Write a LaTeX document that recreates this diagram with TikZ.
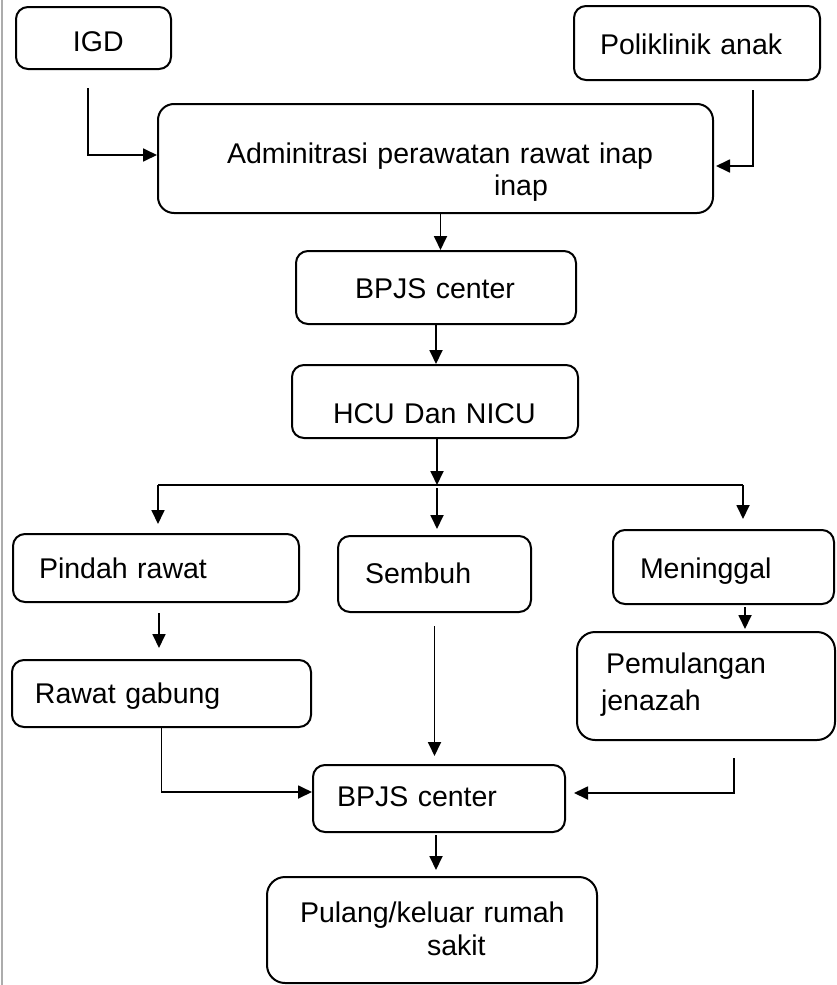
\documentclass[tikz,border=0pt]{standalone}
\usepackage{fontspec}
\setmainfont{Liberation Sans}
\usetikzlibrary{arrows.meta}
\tikzset{
  box/.style={draw, line width=2pt, rounded corners=12pt, inner sep=0pt, align=left,
    font=\fontsize{28.5}{32}\selectfont, text depth=0pt, anchor=center},
  conn/.style={line width=1.8pt},
  arr/.style={conn, -{Triangle[length=14pt,width=13pt]}}
}
\begin{document}
\begin{tikzpicture}[x=1pt,y=-1pt]
\useasboundingbox (0,0) rectangle (836,985);
\draw[gray!65, line width=2pt] (1.5,0) -- (1.5,985);

\node[box, text width=155pt, minimum height=62pt, text height=26pt] (igd) at (93.5,38) {\hspace*{57pt}IGD};
\node[box, text width=246pt, minimum height=74pt, text height=22.6pt] (poli) at (697,43) {\hspace*{26pt}Poliklinik anak};
\node[box, rounded corners=16pt, text width=555pt, minimum height=109pt, text height=25pt, text depth=16pt] (admin) at (435.5,158.5) {\hspace*{69pt}Adminitrasi perawatan rawat inap\\\hspace*{336pt}inap};
\node[box, text width=280pt, minimum height=73pt, text height=21pt] (bpjsA) at (436,287.5) {\hspace*{59pt}BPJS center};
\node[box, text width=286pt, minimum height=73pt, text height=43pt] (hcu) at (435,401.5) {\hspace*{41pt}HCU Dan NICU};
\node[box, text width=286pt, minimum height=68pt, text height=20pt] (pindah) at (156,568) {\hspace*{26pt}Pindah rawat};
\node[box, text width=193pt, minimum height=76pt, text height=18pt] (sembuh) at (434.5,574) {\hspace*{27pt}Sembuh};
\node[box, text width=221pt, minimum height=74pt, text height=22pt] (mening) at (723.5,567) {\hspace*{27pt}Meninggal};
\node[box, text width=299pt, minimum height=67pt, text height=19pt] (rawat) at (161.5,693.5) {\hspace*{23pt}Rawat gabung};
\node[box, rounded corners=18pt, font=\fontsize{28.5}{37}\selectfont, text width=258pt, minimum height=108pt, text height=12pt, text depth=38pt] (pemul) at (706,686) {\hspace*{29pt}Pemulangan\\\hspace*{24pt}jenazah};
\node[box, text width=252pt, minimum height=67pt, text height=15pt] (bpjsB) at (439,798.5) {\hspace*{24pt}BPJS center};
\node[box, rounded corners=18pt, font=\fontsize{28.5}{33}\selectfont, text width=330pt, minimum height=106pt, text height=12pt, text depth=28pt] (pulang) at (432,930) {\hspace*{33pt}Pulang/keluar rumah\\\hspace*{160pt}sakit};

% connectors
\draw[arr, shorten <=18pt] ([xshift=-5.5pt]igd.south) |- ([yshift=3.5pt]admin.west);
\draw[arr, shorten <=9pt, shorten >=2pt] ([xshift=56pt]poli.south) |- ([yshift=-7.5pt]admin.east);
\draw[arr] ([xshift=5pt]admin.south) -- ([xshift=5pt]admin.south |- bpjsA.north);
\draw[arr] (bpjsA.south) -- (bpjsA.south |- hcu.north);

\coordinate (jl) at (158,485);
\coordinate (jm) at (437,485);
\coordinate (jr) at (743,485);
\draw[arr] ([xshift=2pt]hcu.south) -- (jm);
\draw[conn] (jl) -- (jr);
\draw[arr, shorten >=9pt] (jl) -- (jl |- pindah.north);
\draw[arr, shorten <=3pt, shorten >=6pt] (jm) -- (jm |- sembuh.north);
\draw[arr, shorten >=10pt] (jr) -- (jr |- mening.north);

\draw[arr, shorten <=10pt, shorten >=11pt] ([xshift=3pt]pindah.south) -- ([xshift=3pt]pindah.south |- rawat.north);
\draw[arr, shorten <=2pt, shorten >=2pt] ([xshift=21.5pt]mening.south) -- ([xshift=21.5pt]mening.south |- pemul.north);

\draw[arr] (rawat.south) |- ([yshift=6.5pt]bpjsB.west);
\draw[arr, shorten <=13pt, shorten >=8pt] (sembuh.south) -- (sembuh.south |- bpjsB.north);
\draw[arr, shorten <=17pt, shorten >=8pt] ([xshift=28pt]pemul.south) |- ([yshift=5.5pt]bpjsB.east);
\draw[arr, shorten <=2pt, shorten >=6pt] ([xshift=-3pt]bpjsB.south) -- ([xshift=-3pt]bpjsB.south |- pulang.north);
\end{tikzpicture}
\end{document}
